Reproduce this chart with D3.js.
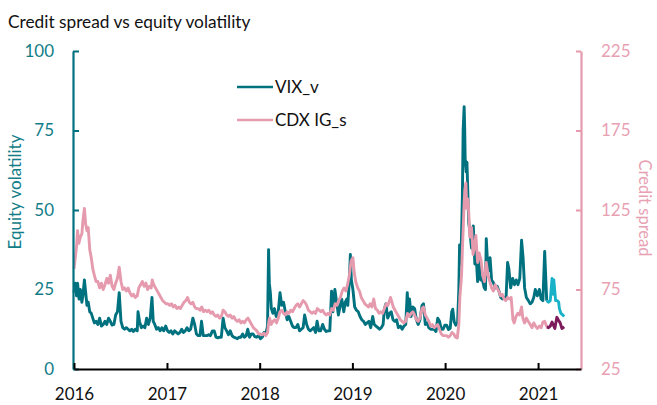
<!DOCTYPE html>
<html>
  <head>
    <meta charset="utf-8">
    <script src="https://d3js.org/d3.v7.min.js"></script>
    <style>
      body { margin: 0; background: #fff; }
      text { font-family: Lato, "Open Sans", sans-serif; }
    </style>
  </head>
  <body>
    <script type="text/javascript">
      "use strict";
      // ---- data (weekly-ish samples) ----
      var vixSeries = [
        ["2016-01-01",24],["2016-01-06",27],["2016-01-11",23],["2016-01-15",27],["2016-01-21",22],["2016-01-26",25],
        ["2016-02-01",21],["2016-02-05",23],["2016-02-11",28],["2016-02-16",24],["2016-02-21",20],["2016-02-26",21],
        ["2016-03-03",18],["2016-03-09",17.5],["2016-03-15",16],["2016-03-21",14.5],["2016-03-28",15],
        ["2016-04-04",14],["2016-04-11",16],["2016-04-18",13.5],["2016-04-25",14],
        ["2016-05-02",15],["2016-05-09",14],["2016-05-16",16],["2016-05-23",15],["2016-05-30",13.8],
        ["2016-06-06",14],["2016-06-13",17],["2016-06-20",18],["2016-06-27",24],
        ["2016-07-04",15],["2016-07-11",13],["2016-07-18",12.5],["2016-07-25",13],
        ["2016-08-01",12.5],["2016-08-08",12],["2016-08-15",12.5],["2016-08-22",11.8],["2016-08-29",12.5],
        ["2016-09-06",12],["2016-09-09",18],["2016-09-15",15],["2016-09-22",13],["2016-09-29",13.5],
        ["2016-10-06",13],["2016-10-13",16],["2016-10-20",14],["2016-10-27",16],
        ["2016-11-03",22.5],["2016-11-08",15],["2016-11-14",14],["2016-11-21",12.5],["2016-11-28",13],
        ["2016-12-05",12],["2016-12-12",13],["2016-12-19",12],["2016-12-27",13.5],
        ["2017-01-03",12],["2017-01-10",11.5],["2017-01-17",12],["2017-01-24",11],["2017-01-31",12],
        ["2017-02-07",11.5],["2017-02-14",11],["2017-02-21",11.5],["2017-02-28",12.5],
        ["2017-03-07",11.5],["2017-03-14",12],["2017-03-21",13],["2017-03-28",12],
        ["2017-04-04",12.5],["2017-04-13",16],["2017-04-20",14],["2017-04-27",11],
        ["2017-05-04",10.5],["2017-05-11",10.5],["2017-05-17",15],["2017-05-24",10.5],["2017-05-31",10.5],
        ["2017-06-07",10.5],["2017-06-14",10.8],["2017-06-21",10.5],["2017-06-29",12],
        ["2017-07-06",12],["2017-07-13",10],["2017-07-20",9.8],["2017-07-27",10],
        ["2017-08-03",10],["2017-08-10",16],["2017-08-17",13],["2017-08-24",12],["2017-08-31",10.8],
        ["2017-09-07",12],["2017-09-14",10.5],["2017-09-21",10],["2017-09-28",9.8],
        ["2017-10-05",9.5],["2017-10-12",10],["2017-10-19",10],["2017-10-26",11],
        ["2017-11-02",10],["2017-11-09",10.5],["2017-11-15",12.5],["2017-11-22",10],["2017-11-29",11],
        ["2017-12-06",11],["2017-12-13",10.2],["2017-12-20",10],["2017-12-28",10.5],
        ["2018-01-04",9.5],["2018-01-11",10],["2018-01-18",11.5],["2018-01-25",11],["2018-02-01",13.5],
        ["2018-02-05",37.5],["2018-02-08",27],["2018-02-12",24],["2018-02-16",19],["2018-02-22",17.5],["2018-02-28",19],
        ["2018-03-07",16.5],["2018-03-14",17],["2018-03-22",24],["2018-03-29",20],
        ["2018-04-05",21],["2018-04-12",18],["2018-04-19",15.5],["2018-04-26",16.5],
        ["2018-05-03",15],["2018-05-10",13.5],["2018-05-17",13],["2018-05-24",13],["2018-05-31",14],
        ["2018-06-07",12],["2018-06-14",12.5],["2018-06-21",13],["2018-06-27",17],
        ["2018-07-05",14],["2018-07-12",12.5],["2018-07-19",12],["2018-07-26",12.5],
        ["2018-08-02",13],["2018-08-09",11.5],["2018-08-15",15],["2018-08-22",12],["2018-08-29",12],
        ["2018-09-06",14],["2018-09-13",12.5],["2018-09-20",11.8],["2018-09-27",12],
        ["2018-10-04",12],["2018-10-11",24.5],["2018-10-16",18],["2018-10-24",25],["2018-10-31",21],
        ["2018-11-07",17],["2018-11-14",20],["2018-11-20",22],["2018-11-28",18],
        ["2018-12-04",21],["2018-12-10",22],["2018-12-14",20],["2018-12-20",28],["2018-12-24",36],["2018-12-28",28],
        ["2019-01-03",25],["2019-01-10",19.5],["2019-01-17",18.5],["2019-01-24",18],["2019-01-31",16.5],
        ["2019-02-07",15.5],["2019-02-14",15],["2019-02-21",14],["2019-02-28",14.5],
        ["2019-03-07",15],["2019-03-14",13],["2019-03-22",16.5],["2019-03-28",14],
        ["2019-04-04",13.5],["2019-04-11",13],["2019-04-18",12.5],["2019-04-25",13],
        ["2019-05-02",14],["2019-05-07",19],["2019-05-13",20.5],["2019-05-20",16],["2019-05-28",17.5],
        ["2019-06-03",18],["2019-06-10",15.5],["2019-06-17",15],["2019-06-24",15.5],
        ["2019-07-01",13],["2019-07-09",13.5],["2019-07-16",12.5],["2019-07-23",13.5],["2019-07-30",14],
        ["2019-08-05",24],["2019-08-09",18],["2019-08-14",22],["2019-08-20",16.5],["2019-08-27",19.5],
        ["2019-09-03",19],["2019-09-10",15.5],["2019-09-17",14],["2019-09-24",15.5],
        ["2019-10-02",20],["2019-10-08",20.5],["2019-10-15",14],["2019-10-22",14.5],["2019-10-29",13],
        ["2019-11-05",12.5],["2019-11-12",12.5],["2019-11-19",12.5],["2019-11-26",11.8],
        ["2019-12-03",16],["2019-12-10",15],["2019-12-17",12.5],["2019-12-24",12.5],["2019-12-31",13.8],
        ["2020-01-07",13.8],["2020-01-14",12.4],["2020-01-21",12.8],["2020-01-27",18],["2020-01-31",18.8],
        ["2020-02-06",14.8],["2020-02-12",13.8],["2020-02-19",14.4],["2020-02-24",25],["2020-02-27",39],
        ["2020-03-02",33],["2020-03-05",40],["2020-03-09",54],["2020-03-12",75],["2020-03-16",82.5],["2020-03-18",76],
        ["2020-03-20",66],["2020-03-24",62],["2020-03-27",65],["2020-03-31",54],
        ["2020-04-03",46],["2020-04-08",43],["2020-04-14",38],["2020-04-21",45],["2020-04-27",33],
        ["2020-05-01",37],["2020-05-08",27.5],["2020-05-13",35],["2020-05-20",28],["2020-05-27",28],
        ["2020-06-03",25.5],["2020-06-08",25],["2020-06-11",41],["2020-06-16",33.5],["2020-06-23",31],["2020-06-26",35],
        ["2020-07-02",28],["2020-07-10",27],["2020-07-17",25.5],["2020-07-24",26],["2020-07-31",24.5],
        ["2020-08-07",22.5],["2020-08-14",22],["2020-08-21",22.5],["2020-08-28",22.5],
        ["2020-09-03",33.5],["2020-09-08",31.5],["2020-09-15",25.5],["2020-09-23",28.5],["2020-09-30",26.5],
        ["2020-10-07",28],["2020-10-14",26.5],["2020-10-21",28.5],["2020-10-28",40.5],["2020-11-03",35],
        ["2020-11-09",25.5],["2020-11-16",22.5],["2020-11-24",21.5],
        ["2020-12-01",20.5],["2020-12-08",21],["2020-12-15",22.5],["2020-12-21",25],["2020-12-29",23],
        ["2021-01-06",25],["2021-01-13",22],["2021-01-20",21.5],["2021-01-27",37],["2021-01-29",33],["2021-02-04",21.5],
        ["2021-02-11",21],["2021-02-18",21.5],["2021-02-25",28.5],["2021-03-01",23.5],["2021-03-04",28],
        ["2021-03-11",21.5],["2021-03-18",21.5],["2021-03-23",21],["2021-03-26",19],["2021-04-01",17.5],
        ["2021-04-08",17],["2021-04-14",16.5]
      ];
      var cdxSeries = [
        ["2016-01-01",88],["2016-01-06",95],["2016-01-11",102],["2016-01-15",112],["2016-01-20",104],["2016-01-26",108],
        ["2016-02-01",110],["2016-02-05",118],["2016-02-11",126],["2016-02-16",116],["2016-02-21",112],["2016-02-26",114],
        ["2016-03-03",100],["2016-03-09",95],["2016-03-15",88],["2016-03-21",84],["2016-03-28",80],
        ["2016-04-04",80],["2016-04-11",76],["2016-04-18",79],["2016-04-25",75],
        ["2016-05-02",78],["2016-05-09",82],["2016-05-16",79],["2016-05-23",84],["2016-05-30",77],
        ["2016-06-06",75],["2016-06-13",79],["2016-06-20",82],["2016-06-27",89],
        ["2016-07-04",80],["2016-07-11",75],["2016-07-18",76],["2016-07-25",74],
        ["2016-08-01",76],["2016-08-08",73],["2016-08-15",71],["2016-08-22",72],["2016-08-29",70],
        ["2016-09-06",71],["2016-09-12",76],["2016-09-19",78],["2016-09-26",80],
        ["2016-10-03",77],["2016-10-10",79],["2016-10-17",75],["2016-10-24",77],["2016-10-31",76],
        ["2016-11-04",81],["2016-11-10",78],["2016-11-17",76],["2016-11-24",74],
        ["2016-12-01",72],["2016-12-08",70],["2016-12-15",68],["2016-12-22",67],["2016-12-29",66],
        ["2017-01-05",66],["2017-01-12",65],["2017-01-19",66],["2017-01-26",64],
        ["2017-02-02",65],["2017-02-09",63],["2017-02-16",64],["2017-02-23",63],
        ["2017-03-02",65],["2017-03-09",67],["2017-03-16",68],["2017-03-23",70],["2017-03-30",67],
        ["2017-04-06",66],["2017-04-13",67],["2017-04-20",64],["2017-04-27",63],
        ["2017-05-04",63],["2017-05-11",62],["2017-05-18",64],["2017-05-25",61],
        ["2017-06-01",62],["2017-06-08",61],["2017-06-15",62],["2017-06-22",60],["2017-06-29",61],
        ["2017-07-06",59],["2017-07-13",58],["2017-07-20",59],["2017-07-27",57],
        ["2017-08-03",58],["2017-08-10",62],["2017-08-17",61],["2017-08-24",59],["2017-08-31",58],
        ["2017-09-07",59],["2017-09-14",57],["2017-09-21",58],["2017-09-28",56],
        ["2017-10-05",55],["2017-10-12",56],["2017-10-19",54],["2017-10-26",55],
        ["2017-11-02",54],["2017-11-09",56],["2017-11-16",57],["2017-11-23",55],["2017-11-30",53],
        ["2017-12-07",51],["2017-12-14",50],["2017-12-21",49],["2017-12-28",47],
        ["2018-01-04",47],["2018-01-11",46.5],["2018-01-18",47.5],["2018-01-25",46],
        ["2018-02-01",48],["2018-02-06",55],["2018-02-09",57],["2018-02-15",53],["2018-02-22",55],
        ["2018-03-01",56],["2018-03-08",54],["2018-03-15",57],["2018-03-22",61],["2018-03-29",62],
        ["2018-04-05",60],["2018-04-12",59],["2018-04-19",61],["2018-04-26",60],
        ["2018-05-03",62],["2018-05-10",61],["2018-05-17",63],["2018-05-24",65],["2018-05-31",66],
        ["2018-06-07",64],["2018-06-14",66],["2018-06-21",68],["2018-06-28",67],
        ["2018-07-05",65],["2018-07-12",62],["2018-07-19",61],["2018-07-26",60],
        ["2018-08-02",61],["2018-08-09",60],["2018-08-16",63],["2018-08-23",62],["2018-08-30",61],
        ["2018-09-06",62],["2018-09-13",60],["2018-09-20",59],["2018-09-27",60],
        ["2018-10-04",59],["2018-10-11",63],["2018-10-18",62],["2018-10-25",66],
        ["2018-11-01",65],["2018-11-08",68],["2018-11-15",70],["2018-11-22",74],["2018-11-29",76],
        ["2018-12-06",74],["2018-12-13",78],["2018-12-20",84],["2018-12-27",93],
        ["2019-01-03",95],["2019-01-08",86],["2019-01-14",80],["2019-01-22",76],["2019-01-29",74],
        ["2019-02-05",70],["2019-02-12",68],["2019-02-19",66],["2019-02-26",65],
        ["2019-03-05",64],["2019-03-12",66],["2019-03-19",64],["2019-03-26",69],
        ["2019-04-02",63],["2019-04-09",62],["2019-04-16",60],["2019-04-23",61],["2019-04-30",60],
        ["2019-05-07",63],["2019-05-14",66],["2019-05-21",65],["2019-05-31",70],
        ["2019-06-04",68],["2019-06-11",64],["2019-06-18",62],["2019-06-25",60],
        ["2019-07-02",58],["2019-07-09",56],["2019-07-16",55],["2019-07-23",54],["2019-07-30",55],
        ["2019-08-06",60],["2019-08-13",58],["2019-08-20",60],["2019-08-27",61],
        ["2019-09-03",59],["2019-09-10",56],["2019-09-17",55],["2019-09-24",57],
        ["2019-10-02",63],["2019-10-08",64],["2019-10-15",59],["2019-10-22",57],["2019-10-29",55],
        ["2019-11-05",52],["2019-11-12",53],["2019-11-19",51],["2019-11-26",52],
        ["2019-12-03",53],["2019-12-10",50],["2019-12-17",47],["2019-12-24",46],["2019-12-31",46],
        ["2020-01-07",46],["2020-01-14",45],["2020-01-21",46],["2020-01-28",48],
        ["2020-02-04",47],["2020-02-11",45],["2020-02-18",44.5],["2020-02-24",53],["2020-02-28",70],
        ["2020-03-03",78],["2020-03-06",85],["2020-03-09",100],["2020-03-12",112],["2020-03-16",130],
        ["2020-03-19",138],["2020-03-23",142],["2020-03-26",126],["2020-03-31",132],
        ["2020-04-03",124],["2020-04-07",108],["2020-04-14",114],["2020-04-20",97],["2020-04-27",104],
        ["2020-05-01",109],["2020-05-08",92],["2020-05-14",98],["2020-05-21",94],["2020-05-28",84],
        ["2020-06-04",80],["2020-06-11",92],["2020-06-18",84],["2020-06-25",80],
        ["2020-07-02",76],["2020-07-09",74],["2020-07-16",78],["2020-07-23",76],["2020-07-30",74],
        ["2020-08-06",71],["2020-08-13",72],["2020-08-20",69],["2020-08-27",68],
        ["2020-09-03",70],["2020-09-10",69],["2020-09-17",70],["2020-09-24",56],["2020-09-29",54],
        ["2020-10-06",58],["2020-10-13",60],["2020-10-20",59],["2020-10-28",64],["2020-11-02",57],
        ["2020-11-09",54],["2020-11-16",57],["2020-11-23",55],
        ["2020-12-01",53],["2020-12-08",51],["2020-12-15",54],["2020-12-22",52],["2020-12-29",50.5],
        ["2021-01-06",52],["2021-01-13",51],["2021-01-20",54.5],["2021-01-27",55],["2021-02-04",51.5],
        ["2021-02-11",51],["2021-02-18",52],["2021-02-25",54.5],["2021-03-04",52],["2021-03-08",50.5],
        ["2021-03-16",57.5],["2021-03-23",55.5],["2021-03-29",54],["2021-04-05",50.5],["2021-04-14",51.5]
      ];
      // the last few weeks are drawn in a highlight colour
      var highlightFrom = "2021-02-04";
      var yearTicks = ["2016", "2017", "2018", "2019", "2020", "2021"];
      var volTicks = [0, 25, 50, 75, 100];
      var spreadTicks = [25, 75, 125, 175, 225];

      var parse = d3.timeParse("%Y-%m-%d");
      var split = parse(highlightFrom);
      function rows(s) { return s.map(function (d) { return { date: parse(d[0]), value: d[1] }; }); }
      var vix = rows(vixSeries), cdx = rows(cdxSeries);

      var W = 657, H = 405;
      var plotLeft = 73, plotRight = 581, plotTop = 51, plotBottom = 369;
      var teal = "#00717e", pink = "#e59aad", cyan = "#19b1c7", plum = "#7c1a5a";

      var svg = d3.select("body").append("svg")
          .attr("width", W).attr("height", H);

      var x = d3.scaleTime()
          .domain([parse("2016-01-01"), parse("2021-06-19")])
          .range([plotLeft + 1, plotRight]);
      var yL = d3.scaleLinear().domain([0, 100]).range([plotBottom, plotTop]);
      var yR = d3.scaleLinear().domain([25, 225]).range([plotBottom, plotTop]);

      // title
      svg.append("text")
          .attr("x", 8).attr("y", 28)
          .style("font-size", "17.3px").style("fill", "#111")
          .text("Credit spread vs equity volatility");

      // lines (credit on top)
      function drawSeries(data, scale, mainCol, hiCol) {
        var line = d3.line()
            .x(function (d) { return x(d.date); })
            .y(function (d) { return scale(d.value); });
        svg.append("path")
            .datum(data.filter(function (d) { return d.date <= split; }))
            .attr("d", line).attr("fill", "none")
            .attr("stroke", mainCol).attr("stroke-width", 2.9)
            .attr("stroke-linejoin", "round");
        svg.append("path")
            .datum(data.filter(function (d) { return d.date >= split; }))
            .attr("d", line).attr("fill", "none")
            .attr("stroke", hiCol).attr("stroke-width", 2.9)
            .attr("stroke-linejoin", "round");
      }
      drawSeries(vix, yL, teal, cyan);
      drawSeries(cdx, yR, pink, plum);

      // axes
      var gx = svg.append("g")
          .attr("transform", "translate(0," + plotBottom + ")")
          .call(d3.axisBottom(x)
              .tickValues(yearTicks.map(function (y) { return parse(y + "-01-01"); }))
              .tickFormat(d3.timeFormat("%Y"))
              .tickSizeInner(-6).tickSizeOuter(0).tickPadding(19));
      gx.select(".domain").attr("stroke", "#000").attr("stroke-width", 2.2);
      gx.selectAll(".tick line").attr("stroke", "#000").attr("stroke-width", 2);
      gx.selectAll("text").style("font-size", "17px").style("fill", "#111");

      var gl = svg.append("g")
          .attr("transform", "translate(" + plotLeft + ",0)")
          .call(d3.axisLeft(yL).tickValues(volTicks)
              .tickSizeInner(-6).tickSizeOuter(0).tickPadding(19));
      gl.select(".domain").attr("stroke", teal).attr("stroke-width", 2.2);
      gl.selectAll(".tick line").attr("stroke", teal).attr("stroke-width", 2);
      gl.selectAll("text").style("font-size", "17px").style("fill", "#127d88");

      var gr = svg.append("g")
          .attr("transform", "translate(" + plotRight + ",0)")
          .call(d3.axisRight(yR).tickValues(spreadTicks)
              .tickSizeInner(-5).tickSizeOuter(0).tickPadding(20));
      gr.select(".domain").attr("stroke", pink).attr("stroke-width", 2.2);
      gr.selectAll(".tick line").attr("stroke", pink).attr("stroke-width", 2);
      gr.selectAll("text").style("font-size", "17px").style("fill", "#e8a1b3");

      // the x axis is drawn over the left axis foot
      gx.raise();

      // axis titles
      svg.append("text")
          .attr("transform", "translate(21,192) rotate(-90)")
          .attr("text-anchor", "middle")
          .style("font-size", "17px").style("fill", "#127d88")
          .text("Equity volatility");
      svg.append("text")
          .attr("transform", "translate(639,208) rotate(90)")
          .attr("text-anchor", "middle")
          .style("font-size", "16.5px").style("fill", "#e8a1b3")
          .text("Credit spread");

      // legend
      var legend = [
        { name: "VIX_v", col: teal, y: 87 },
        { name: "CDX IG_s", col: pink, y: 120 }
      ];
      var lg = svg.selectAll("g.legend").data(legend).enter()
          .append("g").attr("class", "legend");
      lg.append("line")
          .attr("x1", 237).attr("x2", 273)
          .attr("y1", function (d) { return d.y; })
          .attr("y2", function (d) { return d.y; })
          .attr("stroke", function (d) { return d.col; })
          .attr("stroke-width", 2.6);
      lg.append("text")
          .attr("x", 275)
          .attr("y", function (d) { return d.y; })
          .attr("dy", "0.35em")
          .style("font-size", "17px").style("fill", "#111")
          .text(function (d) { return d.name; });
    </script>
  </body>
</html>
